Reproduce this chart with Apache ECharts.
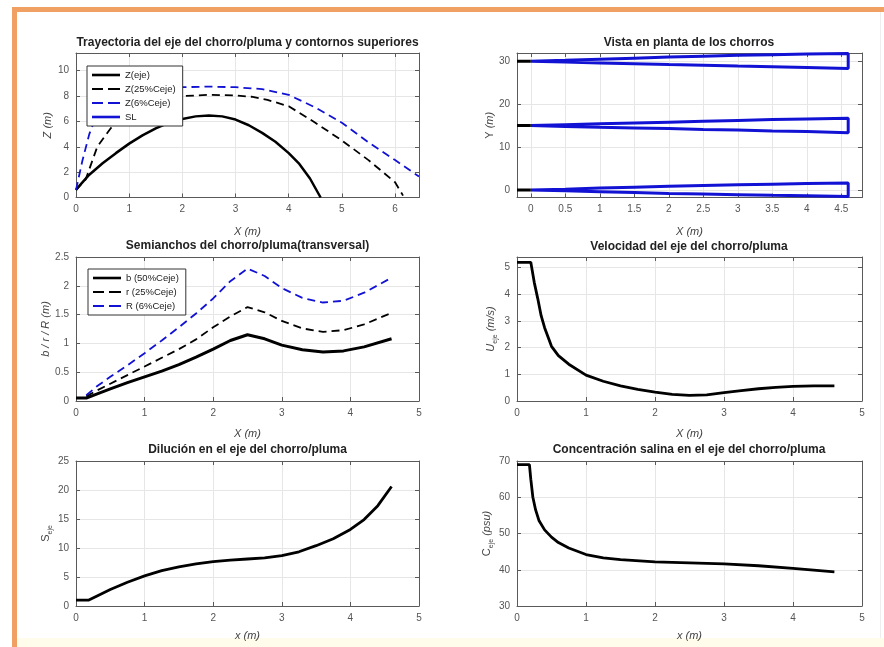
<!DOCTYPE html>
<html>
<head>
<meta charset="utf-8">
<script src="https://cdn.jsdelivr.net/npm/echarts@6/dist/echarts.min.js"></script>
<style>
  html, body { margin: 0; padding: 0; background: #fff; }
  #chart { width: 884px; height: 647px; }
</style>
</head>
<body>
<div id="chart"></div>
<script>
// ---- Trayectoria del eje y contornos superiores ----
const trajX = [0, 0.1, 0.25, 0.5, 0.75, 1, 1.25, 1.5, 1.75, 2, 2.25, 2.5, 2.75, 3, 3.25, 3.5, 3.75, 4, 4.2, 4.4, 4.6];
const trajZ = [0.6, 1.1, 1.8, 2.7, 3.5, 4.25, 4.9, 5.45, 5.9, 6.2, 6.4, 6.47, 6.4, 6.15, 5.7, 5.1, 4.4, 3.5, 2.65, 1.5, 0];
const z25X = [0, 0.18, 0.4, 0.65, 0.9, 1.2, 1.5, 2, 2.5, 3, 3.3, 3.6, 4, 4.5, 5, 5.5, 6, 6.15];
const z25Z = [0.6, 1.4, 4.0, 5.45, 6.4, 7.2, 7.7, 8.0, 8.1, 8.05, 7.95, 7.7, 7.2, 5.9, 4.5, 2.95, 1.2, 0.15];
const z6X = [0, 0.12, 0.25, 0.4, 0.6, 1, 1.5, 2, 2.5, 3, 3.5, 4, 4.5, 5, 5.5, 6, 6.45];
const z6Z = [0.6, 2.9, 5.0, 6.6, 7.7, 8.35, 8.6, 8.7, 8.75, 8.7, 8.55, 8.1, 7.1, 5.9, 4.35, 2.95, 1.65];

// ---- Vista en planta: bordes de cada chorro ----
const edgeX = [0, 0.5, 1, 1.5, 2, 2.5, 3, 3.5, 4, 4.6];
const jetTopUpper = [30, 30.2, 30.45, 30.7, 30.95, 31.15, 31.35, 31.5, 31.65, 31.8];
const jetTopLower = [30, 29.8, 29.6, 29.4, 29.2, 29.05, 28.85, 28.7, 28.55, 28.3];
const jetMidUpper = [15, 15.2, 15.4, 15.6, 15.8, 16.0, 16.2, 16.4, 16.55, 16.7];
const jetMidLower = [15, 14.8, 14.6, 14.45, 14.3, 14.1, 13.95, 13.75, 13.6, 13.35];
const jetLowUpper = [0, 0.2, 0.45, 0.65, 0.85, 1.05, 1.2, 1.35, 1.5, 1.6];
const jetLowLower = [0, -0.2, -0.4, -0.6, -0.8, -0.95, -1.1, -1.25, -1.35, -1.5];
const nozzleX = [-0.2, 0];
const nozzleY = [0, 15, 30];

// ---- Semianchos ----
const bX = [0, 0.15, 0.3, 0.5, 0.75, 1, 1.25, 1.5, 1.75, 2, 2.25, 2.5, 2.75, 3, 3.3, 3.6, 3.9, 4.2, 4.6];
const bV = [0.05, 0.05, 0.12, 0.21, 0.32, 0.42, 0.52, 0.63, 0.76, 0.9, 1.05, 1.15, 1.08, 0.97, 0.89, 0.85, 0.87, 0.94, 1.08];
const rX = [0.15, 0.3, 0.5, 0.75, 1, 1.25, 1.5, 1.75, 2, 2.25, 2.5, 2.75, 3, 3.3, 3.6, 3.9, 4.2, 4.6];
const rV = [0.08, 0.18, 0.3, 0.45, 0.6, 0.75, 0.9, 1.07, 1.28, 1.47, 1.63, 1.54, 1.39, 1.26, 1.2, 1.23, 1.33, 1.53];
const RV = [0.1, 0.25, 0.42, 0.62, 0.83, 1.05, 1.28, 1.52, 1.78, 2.08, 2.3, 2.17, 1.96, 1.79, 1.71, 1.74, 1.88, 2.14];

// ---- Velocidad del eje ----
const velX = [0, 0.2, 0.22, 0.25, 0.3, 0.35, 0.4, 0.5, 0.6, 0.75, 1, 1.25, 1.5, 1.75, 2, 2.25, 2.5, 2.75, 3, 3.25, 3.5, 3.75, 4, 4.3, 4.6];
const velU = [5.2, 5.2, 4.9, 4.45, 3.85, 3.2, 2.75, 2.05, 1.7, 1.38, 0.97, 0.74, 0.57, 0.44, 0.33, 0.25, 0.21, 0.23, 0.31, 0.39, 0.46, 0.51, 0.55, 0.57, 0.57];

// ---- Dilución ----
const dilX = [0, 0.18, 0.3, 0.5, 0.75, 1, 1.25, 1.5, 1.75, 2, 2.25, 2.5, 2.75, 3, 3.25, 3.5, 3.75, 4, 4.2, 4.4, 4.6];
const dilS = [1, 1, 1.7, 2.85, 4.1, 5.2, 6.1, 6.75, 7.25, 7.65, 7.9, 8.1, 8.3, 8.7, 9.35, 10.4, 11.6, 13.2, 14.9, 17.3, 20.6];

// ---- Concentración salina ----
const concX = [0, 0.18, 0.2, 0.23, 0.27, 0.32, 0.4, 0.5, 0.6, 0.75, 1, 1.25, 1.5, 2, 2.5, 3, 3.5, 4, 4.3, 4.6];
const concC = [69, 69, 65, 60, 56.5, 53.5, 51, 49, 47.5, 46, 44.2, 43.3, 42.8, 42.2, 41.9, 41.6, 41.1, 40.4, 39.9, 39.4];

// ---- Ticks ----
const ticksX1 = [0, 1, 2, 3, 4, 5, 6];
const ticksY1 = [0, 2, 4, 6, 8, 10];
const ticksX2 = [0, 0.5, 1, 1.5, 2, 2.5, 3, 3.5, 4, 4.5];
const ticksY2 = [0, 10, 20, 30];
const ticksX5 = [0, 1, 2, 3, 4, 5];
const ticksYb = [0, 0.5, 1, 1.5, 2, 2.5];
const ticksYu = [0, 1, 2, 3, 4, 5];
const ticksYs = [0, 5, 10, 15, 20, 25];
const ticksYc = [30, 40, 50, 60, 70];

const FONT = '"Liberation Sans", Arial, sans-serif';
const BLUE = '#1212d4';
const BOX = '#5a5a5a';
const LABEL = '#555';

// Legend swatches: a solid bar and a two-dash bar
const ICON_SOLID = 'path://M0,0h28v2.6h-28z';
const ICON_DASH = 'path://M0,0h11v2h-11zM16,0h12v2h-12z';

function pairs(xs, ys) { return xs.map((x, i) => [x, ys[i]]); }

const grids = [
  { left: 76, top: 53, width: 343, height: 144.5 },
  { left: 517, top: 53, width: 345, height: 144.5 },
  { left: 76, top: 257, width: 343, height: 144 },
  { left: 517, top: 257, width: 345, height: 144 },
  { left: 76, top: 461, width: 343, height: 145 },
  { left: 517, top: 461, width: 345, height: 145 }
];

const nameRich = {
  i: { fontStyle: 'italic', fontSize: 11, color: '#444', fontFamily: FONT, lineHeight: 16 },
  n: { fontStyle: 'normal', fontSize: 11, color: '#444', fontFamily: FONT, lineHeight: 16 },
  s: { fontStyle: 'normal', fontSize: 7, color: '#444', fontFamily: FONT, verticalAlign: 'bottom', lineHeight: 9 }
};

const panels = [
  { xr: [0, 6.45], xt: ticksX1, yr: [0, 11.4], yt: ticksY1, xn: '{i|X (m)}', xg: 26, yn: '{i|Z (m)}', yg: 20 },
  { xr: [-0.2, 4.8], xt: ticksX2, yr: [-1.75, 31.9], yt: ticksY2, xn: '{i|X (m)}', xg: 26, yn: '{n|Y }{i|(m)}', yg: 18 },
  { xr: [0, 5], xt: ticksX5, yr: [0, 2.5], yt: ticksYb, xn: '{i|X (m)}', xg: 25, yn: '{i|b / r / R (m)}', yg: 22 },
  { xr: [0, 5], xt: ticksX5, yr: [0, 5.4], yt: ticksYu, xn: '{i|X (m)}', xg: 25, yn: '{i|U}{s|eje}{i| (m/s)}', yg: 18 },
  { xr: [0, 5], xt: ticksX5, yr: [0, 25], yt: ticksYs, xn: '{i|x (m)}', xg: 22, yn: '{n|S}{s|eje}', yg: 22 },
  { xr: [0, 5], xt: ticksX5, yr: [30, 70], yt: ticksYc, xn: '{i|x (m)}', xg: 22, yn: '{n|C}{s|eje}{i| (psu)}', yg: 22 }
];

const xAxes = [], yAxes = [];
panels.forEach((p, gi) => {
  xAxes.push({
    type: 'value', gridIndex: gi, min: p.xr[0], max: p.xr[1], position: 'bottom',
    axisLine: { show: true, onZero: false, lineStyle: { color: BOX, width: 1 } },
    axisTick: { show: true, inside: true, length: 4, lineStyle: { color: BOX }, customValues: p.xt },
    axisLabel: { color: LABEL, fontSize: 10, fontFamily: FONT, margin: 7, customValues: p.xt },
    splitLine: { show: true, lineStyle: { color: '#e6e6e6', width: 1 } },
    name: p.xn, nameLocation: 'middle', nameGap: p.xg,
    nameTextStyle: { rich: nameRich }
  });
  xAxes.push({
    type: 'value', gridIndex: gi, min: p.xr[0], max: p.xr[1], position: 'top',
    axisLine: { show: true, onZero: false, lineStyle: { color: BOX, width: 1 } },
    axisTick: { show: true, inside: true, length: 4, lineStyle: { color: BOX }, customValues: p.xt },
    axisLabel: { show: false }, splitLine: { show: false }
  });
  yAxes.push({
    type: 'value', gridIndex: gi, min: p.yr[0], max: p.yr[1], position: 'left',
    axisLine: { show: true, onZero: false, lineStyle: { color: BOX, width: 1 } },
    axisTick: { show: true, inside: true, length: 4, lineStyle: { color: BOX }, customValues: p.yt },
    axisLabel: { color: LABEL, fontSize: 10, fontFamily: FONT, margin: 7, customValues: p.yt },
    splitLine: { show: true, lineStyle: { color: '#e6e6e6', width: 1 } },
    name: p.yn, nameLocation: 'middle', nameGap: p.yg, nameRotate: 90,
    nameTextStyle: { rich: nameRich }
  });
  yAxes.push({
    type: 'value', gridIndex: gi, min: p.yr[0], max: p.yr[1], position: 'right',
    axisLine: { show: true, onZero: false, lineStyle: { color: BOX, width: 1 } },
    axisTick: { show: true, inside: true, length: 4, lineStyle: { color: BOX }, customValues: p.yt },
    axisLabel: { show: false }, splitLine: { show: false }
  });
});

function line(name, gi, data, color, width, dash) {
  return {
    type: 'line', name, xAxisIndex: gi * 2, yAxisIndex: gi * 2, data,
    symbol: 'none', showSymbol: false, silent: true, animation: false, clip: true,
    lineStyle: { color, width, type: dash || 'solid' },
    itemStyle: { color }, z: 3
  };
}

// Closed outline of a jet in plan: upper edge out, end cap, lower edge back
function outline(upper, lower) {
  const up = pairs(edgeX, upper);
  const low = pairs(edgeX, lower).reverse();
  return up.concat(low);
}

const series = [
  line('Z(eje)', 0, pairs(trajX, trajZ), '#000', 2.5),
  line('Z(25%Ceje)', 0, pairs(z25X, z25Z), '#000', 1.8, [8, 5]),
  line('Z(6%Ceje)', 0, pairs(z6X, z6Z), BLUE, 1.8, [8, 5]),
  line('SL', 0, [], BLUE, 2),

  line('jet30', 1, outline(jetTopUpper, jetTopLower), BLUE, 3),
  line('jet15', 1, outline(jetMidUpper, jetMidLower), BLUE, 3),
  line('jet0', 1, outline(jetLowUpper, jetLowLower), BLUE, 3),
  line('boq30', 1, pairs(nozzleX, [nozzleY[2], nozzleY[2]]), '#000', 3),
  line('boq15', 1, pairs(nozzleX, [nozzleY[1], nozzleY[1]]), '#000', 3),
  line('boq0', 1, pairs(nozzleX, [nozzleY[0], nozzleY[0]]), '#000', 3),

  line('b (50%Ceje)', 2, pairs(bX, bV), '#000', 3),
  line('r (25%Ceje)', 2, pairs(rX, rV), '#000', 1.8, [8, 5]),
  line('R (6%Ceje)', 2, pairs(rX, RV), BLUE, 1.8, [8, 5]),

  line('U', 3, pairs(velX, velU), '#000', 2.8),
  line('S', 4, pairs(dilX, dilS), '#000', 2.8),
  line('C', 5, pairs(concX, concC), '#000', 2.8)
];

const titleStyle = { fontSize: 12, fontWeight: 'bold', color: '#222', fontFamily: FONT };
const titles = [
  ['Trayectoria del eje del chorro/pluma y contornos superiores', 247.5, 37],
  ['Vista en planta de los chorros', 689, 37],
  ['Semianchos del chorro/pluma(transversal)', 247.5, 240],
  ['Velocidad del eje del chorro/pluma', 689, 241],
  ['Dilución en el eje del chorro/pluma', 247.5, 444],
  ['Concentración salina en el eje del chorro/pluma', 689, 444]
].map(([text, x, y]) => ({ text, left: x, top: y, textAlign: 'center', padding: 0, textStyle: titleStyle }));

const legendBase = {
  orient: 'vertical', itemWidth: 28, itemHeight: 10, itemGap: 4,
  padding: [4, 7, 4, 5], borderColor: '#333', borderWidth: 1, backgroundColor: '#fff',
  borderRadius: 0, selectedMode: false,
  textStyle: { fontSize: 9.5, color: '#222', fontFamily: FONT }
};

const option = {
  backgroundColor: '#fff',
  animation: false,
  grid: grids,
  xAxis: xAxes,
  yAxis: yAxes,
  title: titles,
  legend: [
    Object.assign({}, legendBase, { left: 87, top: 66, data: [
      { name: 'Z(eje)', icon: ICON_SOLID },
      { name: 'Z(25%Ceje)', icon: ICON_DASH },
      { name: 'Z(6%Ceje)', icon: ICON_DASH },
      { name: 'SL', icon: ICON_SOLID }
    ] }),
    Object.assign({}, legendBase, { left: 88, top: 269, data: [
      { name: 'b (50%Ceje)', icon: ICON_SOLID },
      { name: 'r (25%Ceje)', icon: ICON_DASH },
      { name: 'R (6%Ceje)', icon: ICON_DASH }
    ] })
  ],
  series,
  graphic: [
    { type: 'rect', shape: { x: 12, y: 7, width: 872, height: 5 }, style: { fill: '#f0a062' }, z: 0, silent: true },
    { type: 'rect', shape: { x: 12, y: 7, width: 5, height: 640 }, style: { fill: '#f0a062' }, z: 0, silent: true },
    { type: 'rect', shape: { x: 17, y: 638, width: 867, height: 9 }, style: { fill: '#fffcec' }, z: 0, silent: true },
    { type: 'rect', shape: { x: 880, y: 12, width: 1, height: 626 }, style: { fill: '#eeeeee' }, z: 0, silent: true }
  ]
};

const chart = echarts.init(document.getElementById('chart'), null, { renderer: 'canvas' });
chart.setOption(option);
</script>
</body>
</html>
